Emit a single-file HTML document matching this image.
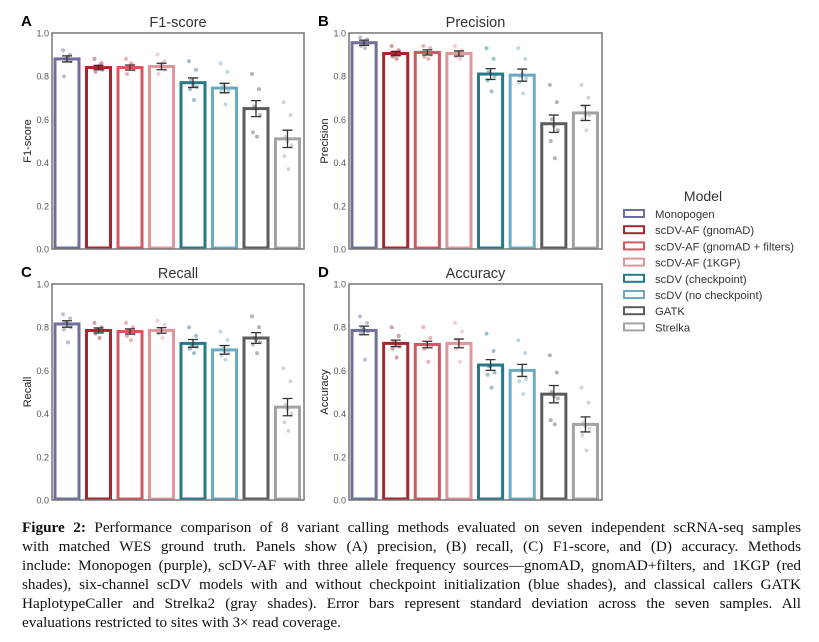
<!DOCTYPE html>
<html><head><meta charset="utf-8"><style>
body{margin:0;background:#fff;width:819px;height:642px;overflow:hidden;position:relative}
#cap{position:absolute;left:22px;top:518px;width:779px;font-family:"Liberation Serif",serif;font-size:15.2px;line-height:19px;color:#111}
#cap div{text-align:justify;text-align-last:justify;white-space:nowrap;overflow:visible}
#cap div.last{text-align-last:left}
</style></head><body>
<svg id="chart" width="819" height="515" style="position:absolute;left:0;top:0" font-family="Liberation Sans, sans-serif"></svg>
<div id="cap">
<div style="white-space:normal"><b>Figure 2:</b> Performance comparison of 8 variant calling methods evaluated on seven independent scRNA-seq samples</div>
<div style="white-space:normal">with matched WES ground truth. Panels show (A) precision, (B) recall, (C) F1-score, and (D) accuracy. Methods</div>
<div style="white-space:normal">include: Monopogen (purple), scDV-AF with three allele frequency sources—gnomAD, gnomAD+filters, and 1KGP (red</div>
<div style="white-space:normal">shades), six-channel scDV models with and without checkpoint initialization (blue shades), and classical callers GATK</div>
<div style="white-space:normal">HaplotypeCaller and Strelka2 (gray shades). Error bars represent standard deviation across the seven samples. All</div>
<div class="last">evaluations restricted to sites with 3× read coverage.</div>
</div>
<script>
const models=["Monopogen","scDV-AF (gnomAD)","scDV-AF (gnomAD + filters)","scDV-AF (1KGP)","scDV (checkpoint)","scDV (no checkpoint)","GATK","Strelka"];
const colors=["#6f6f9c","#a9252f","#d3575e","#e0969b","#26788b","#6aaac2","#5c5c5c","#a3a3a3"];
const yTicks=[0,0.2,0.4,0.6,0.8,1.0];
const f1Vals=[0.88,0.84,0.84,0.845,0.77,0.745,0.65,0.51];
const f1Err=[0.014,0.01,0.012,0.015,0.022,0.022,0.037,0.04];
const f1Pts=[[0.92,0.9,0.88,0.87,0.8,0.89,0.88],[0.88,0.86,0.84,0.83,0.82,0.85,0.84],[0.88,0.85,0.84,0.83,0.81,0.86,0.84],[0.9,0.87,0.85,0.83,0.81,0.86,0.84],[0.87,0.83,0.78,0.75,0.74,0.69,0.76],[0.86,0.82,0.76,0.73,0.73,0.67,0.75],[0.81,0.74,0.66,0.62,0.54,0.52,0.65],[0.68,0.62,0.52,0.48,0.43,0.37,0.5]];
const precVals=[0.955,0.905,0.91,0.905,0.81,0.805,0.58,0.63];
const precErr=[0.012,0.01,0.012,0.012,0.025,0.028,0.04,0.035];
const precPts=[[0.98,0.97,0.96,0.95,0.94,0.93,0.96],[0.94,0.92,0.91,0.9,0.89,0.88,0.91],[0.94,0.93,0.91,0.9,0.89,0.88,0.91],[0.94,0.92,0.91,0.9,0.89,0.88,0.9],[0.93,0.88,0.82,0.8,0.78,0.73,0.81],[0.93,0.88,0.8,0.79,0.77,0.72,0.81],[0.76,0.68,0.6,0.55,0.5,0.42,0.57],[0.76,0.7,0.66,0.62,0.6,0.55,0.62]];
const recVals=[0.815,0.785,0.78,0.785,0.725,0.695,0.75,0.43];
const recErr=[0.015,0.012,0.012,0.013,0.018,0.02,0.025,0.04];
const recPts=[[0.86,0.84,0.82,0.8,0.79,0.73,0.82],[0.82,0.8,0.79,0.78,0.77,0.75,0.79],[0.82,0.8,0.78,0.77,0.76,0.74,0.78],[0.83,0.81,0.79,0.78,0.77,0.75,0.79],[0.8,0.76,0.72,0.71,0.7,0.68,0.72],[0.78,0.74,0.7,0.68,0.67,0.65,0.69],[0.85,0.8,0.75,0.73,0.72,0.68,0.74],[0.61,0.55,0.44,0.4,0.36,0.32,0.42]];
const accVals=[0.785,0.725,0.72,0.725,0.625,0.6,0.49,0.35];
const accErr=[0.02,0.015,0.015,0.02,0.025,0.028,0.04,0.035];
const accPts=[[0.85,0.82,0.8,0.78,0.77,0.65,0.79],[0.8,0.76,0.73,0.71,0.7,0.66,0.72],[0.8,0.75,0.72,0.71,0.7,0.64,0.72],[0.82,0.78,0.74,0.72,0.7,0.64,0.72],[0.77,0.69,0.62,0.59,0.58,0.52,0.62],[0.74,0.68,0.6,0.56,0.55,0.49,0.6],[0.67,0.59,0.5,0.47,0.37,0.35,0.48],[0.52,0.45,0.36,0.33,0.3,0.23,0.34]];

const NS="http://www.w3.org/2000/svg";
const svg=document.getElementById('chart');
function mk(tag,attrs,parent){const e=document.createElementNS(NS,tag);for(const k in attrs)e.setAttribute(k,attrs[k]);(parent||svg).appendChild(e);return e;}
const jit=[-4,3,-2,4,-3,1,0];
function panel(letter,title,yl,x0,x1,yTop,yBot,vals,errs,pts,key){
  const g=mk('g',{});
  
  
  const yS=v=>yBot-(yBot-yTop)*v;
  const slot=(x1-x0)/8;
  const xS=i=>x0+i*slot;
  const t=mk('text',{x:(x0+x1)/2,y:yTop-6,'text-anchor':'middle','font-size':14.5,fill:'#333'},g);t.textContent=title;
  
  const l=mk('text',{x:x0-31,y:yTop-7,'font-size':15,'font-weight':'bold',fill:'#000'},g);l.textContent=letter;
  
  yTicks.forEach(v=>{const tt=mk('text',{x:x0-3,y:yS(v)+3.5,'text-anchor':'end','font-size':9,fill:'#555'},g);tt.textContent=v.toFixed(1);
    });
  const yt=mk('text',{transform:`translate(${x0-21},${(yTop+yBot)/2}) rotate(-90)`,'text-anchor':'middle','font-size':11,fill:'#222'},g);yt.textContent=yl;
  
  vals.forEach((v,i)=>{
    const bx=xS(i)+1.5,bw=slot-4.5;
    const r=mk('rect',{x:bx+1.5,y:yS(v),width:bw-3,height:yBot-yS(v)-1,fill:'#fff',stroke:colors[i],'stroke-width':3},g);
    
    const cx=bx+bw/2;
    pts[i].forEach((p,j)=>{const c=mk('circle',{cx:cx+jit[j],cy:yS(p),r:2,fill:colors[i],opacity:0.45},g);
      });
    const e=errs[i];
    const eb=mk('path',{d:`M${cx},${yS(v+e)}V${yS(v-e)}M${cx-5},${yS(v+e)}H${cx+5}M${cx-5},${yS(v-e)}H${cx+5}`,stroke:'#333','stroke-width':1.3,fill:'none'},g);
    
  });
  const fr=mk('rect',{x:x0,y:yTop,width:x1-x0,height:yBot-yTop,fill:'none',stroke:'#777','stroke-width':1.5},g);
  
}
panel('A','F1-score','F1-score',52,304,33,249,f1Vals,f1Err,f1Pts,'f1');
panel('B','Precision','Precision',349,602,33,249,precVals,precErr,precPts,'precision');
panel('C','Recall','Recall',52,304,284,500,recVals,recErr,recPts,'recall');
panel('D','Accuracy','Accuracy',349,602,284,500,accVals,accErr,accPts,'accuracy');
const lg=mk('g',{});


const lt=mk('text',{x:703,y:201,'text-anchor':'middle','font-size':14,fill:'#333'},lg);lt.textContent='Model';
models.forEach((m,i)=>{const y=214+i*16.2;
  const r=mk('rect',{x:624,y:y-4,width:20,height:7,fill:'#fff',stroke:colors[i],'stroke-width':2},lg);
  
  const t=mk('text',{x:655,y:y+4,'font-size':11.3,fill:'#333'},lg);t.textContent=m;
  });
</script>
</body></html>
